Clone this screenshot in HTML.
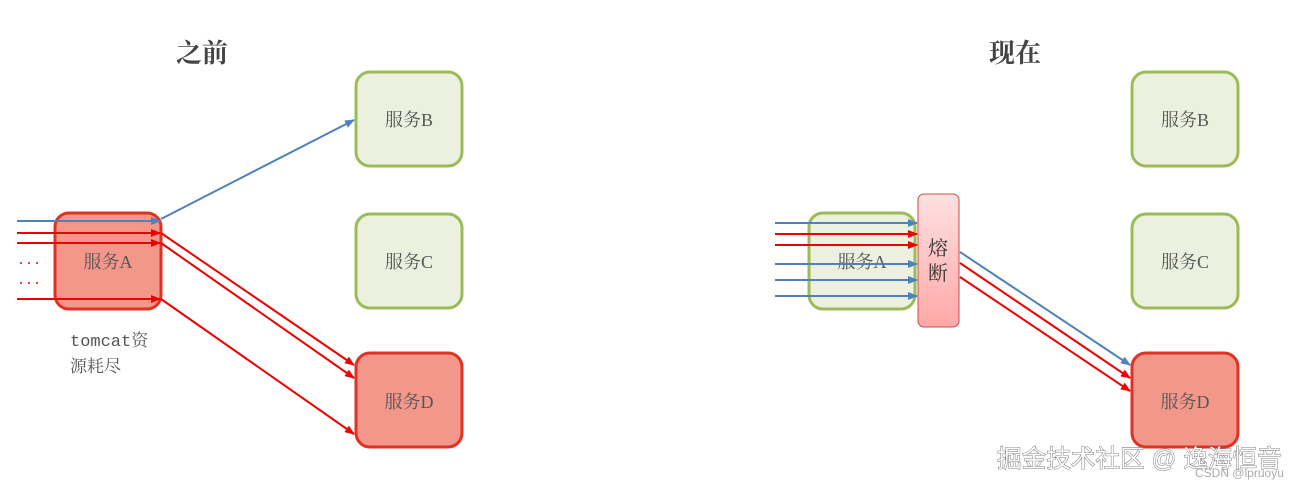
<!DOCTYPE html>
<html><head><meta charset="utf-8"><style>
body{margin:0;background:#fff;width:1299px;height:488px;overflow:hidden}
svg text{font-family:"Liberation Serif","Noto Serif CJK SC",serif}
</style></head><body>
<svg width="1299" height="488" viewBox="0 0 1299 488" xmlns="http://www.w3.org/2000/svg">
<defs>
<marker id="r" markerWidth="10" markerHeight="8" refX="9" refY="4" orient="auto" markerUnits="userSpaceOnUse"><path d="M0,0L10,4L0,8z" fill="#e00"/></marker>
<marker id="b" markerWidth="10" markerHeight="8" refX="9" refY="4" orient="auto" markerUnits="userSpaceOnUse"><path d="M0,0L10,4L0,8z" fill="#4f81bd"/></marker>
<linearGradient id="g" x1="0" y1="0" x2="0" y2="1"><stop offset="0" stop-color="#ffe0e0"/><stop offset="1" stop-color="#ffa8a8"/></linearGradient>
</defs>
<text x="202" y="62" font-size="26" text-anchor="middle" fill="#444" style="font-weight:bold">之前</text>
<text x="1015" y="62" font-size="26" text-anchor="middle" fill="#444" style="font-weight:bold">现在</text>
<g stroke-width="3">
<rect x="356" y="72" width="106" height="94" rx="14" fill="#ebf1de" stroke="#9bbb59"/>
<rect x="356" y="214" width="106" height="94" rx="14" fill="#ebf1de" stroke="#9bbb59"/>
<rect x="356" y="353" width="106" height="94" rx="14" fill="#f2978a" stroke="#dd3322"/>
<rect x="55" y="213" width="106" height="96" rx="14" fill="#f2978a" stroke="#dd3322"/>
<rect x="1132" y="72" width="106" height="94" rx="14" fill="#ebf1de" stroke="#9bbb59"/>
<rect x="1132" y="214" width="106" height="94" rx="14" fill="#ebf1de" stroke="#9bbb59"/>
<rect x="1132" y="353" width="106" height="94" rx="14" fill="#f2978a" stroke="#dd3322"/>
<rect x="809" y="213" width="106" height="96" rx="14" fill="#ebf1de" stroke="#9bbb59"/>
</g>
<rect x="918" y="194" width="41" height="133" rx="6" fill="url(#g)" stroke="#c0504d" stroke-width="1"/>
<g font-size="18" fill="#555" text-anchor="middle">
<text x="409" y="126">服务B</text><text x="409" y="268">服务C</text><text x="409" y="408">服务D</text>
<text x="108" y="268">服务A</text>
<text x="1185" y="126">服务B</text><text x="1185" y="268">服务C</text><text x="1185" y="408">服务D</text>
<text x="862" y="268">服务A</text>
</g>
<text x="938" y="255" font-size="20" fill="#333" text-anchor="middle">熔</text>
<text x="938" y="280" font-size="20" fill="#333" text-anchor="middle">断</text>
<text x="70" y="346" font-size="17" fill="#555" style="font-family:'Liberation Mono','Noto Serif CJK SC',monospace">tomcat资</text>
<text x="70" y="372" font-size="17" fill="#555">源耗尽</text>
<g fill="none" stroke-width="2">
<line x1="17" y1="221" x2="160" y2="221" stroke="#4f81bd" marker-end="url(#b)"/>
<line x1="17" y1="233" x2="160" y2="233" stroke="#e00" marker-end="url(#r)"/>
<line x1="17" y1="243" x2="160" y2="243" stroke="#e00" marker-end="url(#r)"/>
<line x1="17" y1="299" x2="160" y2="299" stroke="#e00" marker-end="url(#r)"/>
<line x1="161" y1="219" x2="354" y2="120" stroke="#4f81bd" marker-end="url(#b)"/>
<line x1="161" y1="233" x2="354" y2="365" stroke="#e00" marker-end="url(#r)"/>
<line x1="161" y1="243" x2="354" y2="378" stroke="#e00" marker-end="url(#r)"/>
<line x1="161" y1="299" x2="354" y2="434" stroke="#e00" marker-end="url(#r)"/>
<line x1="775" y1="223" x2="917" y2="223" stroke="#4f81bd" marker-end="url(#b)"/>
<line x1="775" y1="234" x2="917" y2="234" stroke="#e00" marker-end="url(#r)"/>
<line x1="775" y1="245" x2="917" y2="245" stroke="#e00" marker-end="url(#r)"/>
<line x1="775" y1="264" x2="917" y2="264" stroke="#4f81bd" marker-end="url(#b)"/>
<line x1="775" y1="280" x2="917" y2="280" stroke="#4f81bd" marker-end="url(#b)"/>
<line x1="775" y1="296" x2="917" y2="296" stroke="#4f81bd" marker-end="url(#b)"/>
<line x1="960" y1="252" x2="1130" y2="365" stroke="#4f81bd" marker-end="url(#b)"/>
<line x1="960" y1="263" x2="1130" y2="378" stroke="#e00" marker-end="url(#r)"/>
<line x1="960" y1="277" x2="1130" y2="391" stroke="#e00" marker-end="url(#r)"/>
</g>
<g fill="#e00"><circle cx="21" cy="263" r="1"/><circle cx="29" cy="263" r="1"/><circle cx="37" cy="263" r="1"/><circle cx="21" cy="283" r="1"/><circle cx="29" cy="283" r="1"/><circle cx="37" cy="283" r="1"/></g>
<text x="1195" y="477" font-size="12" fill="#aaa" style="font-family:'Liberation Sans',sans-serif">CSDN @lpruoyu</text>
<text x="997" y="467" font-size="24.6" fill="#fff" stroke="#555" stroke-width="0.8" style="font-family:'Liberation Sans','Noto Sans CJK SC',sans-serif;paint-order:stroke">掘金技术社区 @ 逸海恒音</text>
</svg>
</body></html>
